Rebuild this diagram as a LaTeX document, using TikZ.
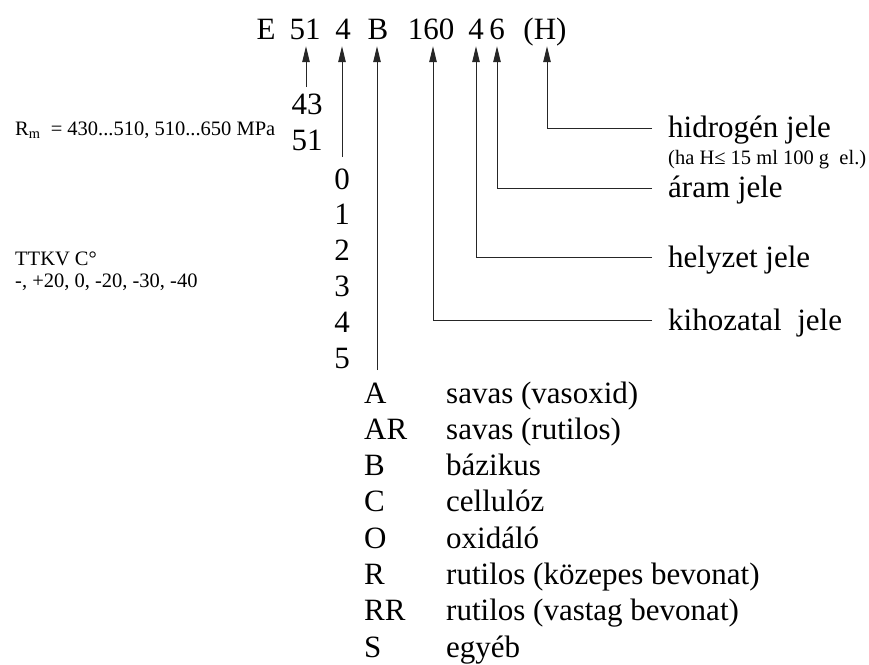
\documentclass[tikz,border=0pt]{standalone}
\usepackage{fontspec}
\setmainfont{Liberation Serif}
\usetikzlibrary{arrows.meta}
\begin{document}
\begin{tikzpicture}[x=1pt,y=-1pt,
  big/.style={font=\fontsize{31}{31}\selectfont, inner sep=0pt, anchor=base},
  lbl/.style={font=\fontsize{31}{31}\selectfont, inner sep=0pt, anchor=base west},
  leg/.style={font=\fontsize{31}{31}\selectfont, inner sep=0pt, anchor=base west},
  sml/.style={font=\fontsize{20.5}{20.5}\selectfont, inner sep=0pt, anchor=base west},
  tiny/.style={font=\fontsize{20.5}{20.5}\selectfont, inner sep=0pt, anchor=base west},
  tok/.style={font=\fontsize{31}{31}\selectfont, inner sep=0pt, anchor=base, text depth=0pt},
  ln/.style={line width=0.9pt, draw=black!85},
  arr/.style={ln, -{Triangle[length=16pt,width=7.5pt]}, shorten >=7pt},
]
\useasboundingbox (0,0) rectangle (869,664);

% code tokens
\node[tok] (tE)   at (266,39) {E};
\node[tok] (t51)  at (305,39) {51};
\node[tok] (t4a)  at (343,39) {4};
\node[tok] (tB)   at (378,39) {B};
\node[tok] (t160) at (431,39) {160};
\node[tok] (t4b)  at (476,39) {4};
\node[tok] (t6)   at (497,39) {6};
\node[tok] (tH)   at (545,39) {(H)};

% strength
\node[big] (n43) at (307,114) {43};
\node[big] (n51) at (307,150) {51};
\node[sml] (rm) at (15,135) {R\textsubscript{m}\ \ = 430...510, 510...650 MPa};

% impact temperature
\foreach \d [count=\i from 0] in {0,1,2,3,4,5}
  \node[big] (d\d) at (342,{189+35.8*\i}) {\d};
\node[sml] (tt1) at (15,265) {TTKV C°};
\node[sml] (tt2) at (15,287) {-, +20, 0, -20, -30, -40};

% right labels
\node[lbl]  (lH)  at (668,137) {hidrogén jele};
\node[tiny] (lHs) at (668,164) {(ha H≤ 15 ml 100 g\ \ el.)};
\node[lbl]  (l6)  at (668,197) {áram jele};
\node[lbl]  (l4)  at (668,267) {helyzet jele};
\node[lbl]  (l160) at (668,330) {kihozatal\ \ jele};

% legend of coating
\node[leg] (kA)  at (364,403.0) {A};   \node[leg] (vA)  at (446,403.0) {savas (vasoxid)};
\node[leg] (kAR) at (364,439.3) {AR};  \node[leg] (vAR) at (446,439.3) {savas (rutilos)};
\node[leg] (kB)  at (364,475.6) {B};   \node[leg] (vB)  at (446,475.6) {bázikus};
\node[leg] (kC)  at (364,511.9) {C};   \node[leg] (vC)  at (446,511.9) {cellulóz};
\node[leg] (kO)  at (364,548.2) {O};   \node[leg] (vO)  at (446,548.2) {oxidáló};
\node[leg] (kR)  at (364,584.5) {R};   \node[leg] (vR)  at (446,584.5) {rutilos (közepes bevonat)};
\node[leg] (kRR) at (364,620.8) {RR};  \node[leg] (vRR) at (446,620.8) {rutilos (vastag bevonat)};
\node[leg] (kS)  at (364,657.1) {S};   \node[leg] (vS)  at (446,657.1) {egyéb};

% connector end points
\coordinate (c51) at (306,87);
\coordinate (c4)  at (342,157);
\coordinate (cB)  at (377,370);
\coordinate (e160) at (652,320);
\coordinate (e4)  at (652,257);
\coordinate (e6)  at (652,188);
\coordinate (eH)  at (652,128);

\draw[arr] (c51) -- (c51 |- t51.south);
\draw[arr] (c4) -- (c4 |- t4a.south);
\draw[arr] (cB) -- (cB |- tB.south);
\draw[arr] (e160) -| ([xshift=2pt]t160.south);
\draw[arr] (e4) -| (t4b.south);
\draw[arr] (e6) -| (t6.south);
\draw[arr] (eH) -| ([xshift=2pt]tH.south);
\end{tikzpicture}
\end{document}
